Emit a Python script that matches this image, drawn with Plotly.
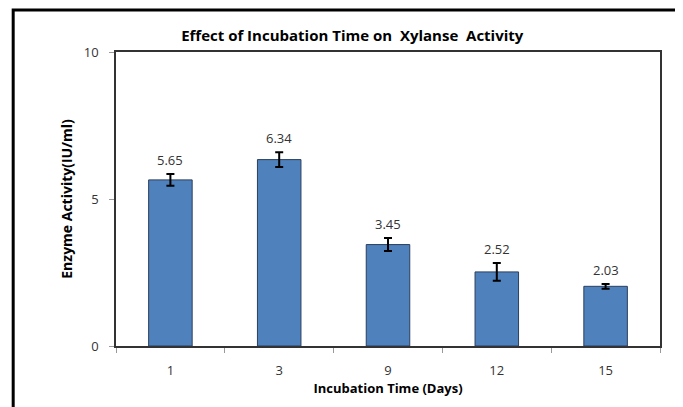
import plotly.graph_objects as go

days = ["1", "3", "9", "12", "15"]
activity = [5.65, 6.34, 3.45, 2.52, 2.03]
errors = [0.2, 0.25, 0.22, 0.3, 0.08]
labels = ["5.65", "6.34", "3.45", "2.52", "2.03"]

font_family = "Open Sans, Liberation Sans, sans-serif"

fig = go.Figure()
fig.add_trace(go.Bar(
    x=days, y=activity,
    marker=dict(color="#4F81BD", line=dict(color="#2B3F5C", width=1)),
    error_y=dict(type="data", array=errors, visible=True, color="black",
                 thickness=2, width=4),
    width=0.4,
    hoverinfo="skip",
))

for i, (v, e, t) in enumerate(zip(activity, errors, labels)):
    fig.add_annotation(x=i, y=v + e, text=t, showarrow=False, yanchor="bottom",
                       yshift=3, font=dict(family=font_family, size=13, color="#333333"))

# outer frame
fig.add_shape(type="rect", xref="paper", yref="paper",
              x0=-0.189, x1=1.08, y0=-0.3, y1=1.143,
              line=dict(color="black", width=3), fillcolor="rgba(0,0,0,0)", layer="below")

fig.update_layout(
    width=675, height=399,
    margin=dict(l=108, r=23, t=44, b=61),
    paper_bgcolor="white", plot_bgcolor="white",
    showlegend=False,
    title=dict(text="<b>Effect of Incubation Time on  Xylanse  Activity</b>",
               x=0.51, xanchor="center", y=0.93, yanchor="middle",
               font=dict(family=font_family, size=15, color="black")),
    font=dict(family=font_family, color="#333333"),
)
fig.update_xaxes(
    type="category", tickson="boundaries", ticks="outside", ticklen=5,
    tickcolor="#999999", showline=True, linecolor="#333333", linewidth=1.5,
    mirror=True, tickfont=dict(size=13, color="#333333"), ticklabelstandoff=12,
    title=dict(text="<b>Incubation Time (Days)</b>", standoff=2,
               font=dict(size=13, color="black")),
)
fig.update_yaxes(
    range=[0, 10], dtick=5, ticks="outside", ticklen=5, tickcolor="#999999",
    showline=True, linecolor="#333333", linewidth=1.5, mirror=True,
    showgrid=False, zeroline=False, ticklabelstandoff=8,
    tickfont=dict(size=13, color="#333333"),
    title=dict(text="<b>Enzyme Activity(IU/ml)</b>", standoff=8,
               font=dict(size=14, color="black")),
)

fig.write_html("out.html")
